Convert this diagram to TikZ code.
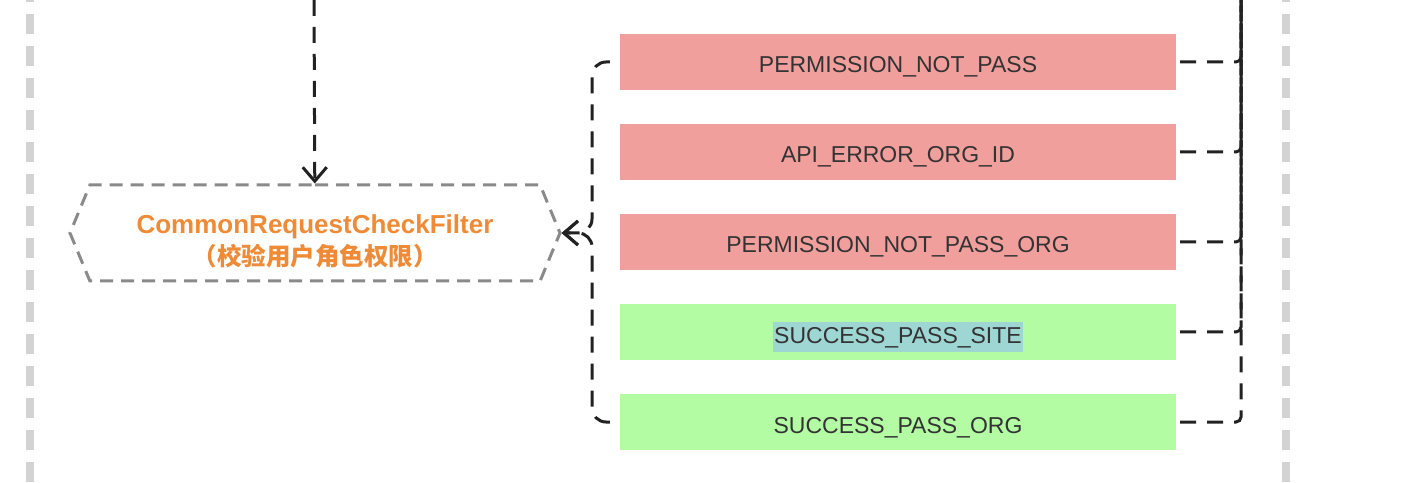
\documentclass[tikz,border=0pt]{standalone}
\usepackage{fontspec}
\setmainfont{Liberation Sans}
\newfontfamily\cjk{Noto Sans CJK SC}
\usetikzlibrary{shapes.symbols,arrows.meta}
\definecolor{errred}{HTML}{F19F9C}
\definecolor{okgreen}{HTML}{B3FCA4}
\definecolor{txtgray}{HTML}{333333}
\definecolor{hexgray}{HTML}{8A8A8A}
\definecolor{lanegray}{HTML}{D3D3D3}
\definecolor{linkblack}{HTML}{222222}
\definecolor{filterorange}{HTML}{EF8A37}
\definecolor{selblue}{HTML}{9ED6D4}
\tikzstyle{errbox} = [rectangle, minimum width=556pt, minimum height=56pt, inner sep=0pt, text height=23pt, text depth=1pt, text centered, fill=errred, text=txtgray, font=\fontsize{23}{28}\selectfont]
\tikzstyle{okbox} = [errbox, fill=okgreen]
\tikzstyle{filter} = [signal, signal to=east and west, signal pointer angle=135, draw=hexgray, line width=3pt, dash pattern=on 13pt off 8pt, minimum width=490pt, minimum height=96pt, inner sep=0pt, align=center, text=filterorange, font=\bfseries\fontsize{26}{32}\selectfont]
\tikzstyle{lane} = [draw=lanegray, line width=8pt, dash pattern=on 20pt off 12pt]
\tikzstyle{link} = [draw=linkblack, line width=3pt, dash pattern=on 16pt off 11pt, rounded corners=5pt]
\tikzstyle{arrow} = [link, -{Straight Barb[length=14pt,width=24pt]}]
\begin{document}
\begin{tikzpicture}[x=1pt, y=1pt, node distance=90pt]
\useasboundingbox (0,0) rectangle (1404,482);

% swimlane borders
\draw[lane] (30,0) -- (30,482);
\draw[lane] (1286,0) -- (1286,482);

\node (filter) [filter] at (315,249) {\rule{0pt}{35pt}CommonRequestCheckFilter\\{\cjk\fontsize{24.5}{32}\selectfont （校验用户角色权限）}};

\node (notPass) [errbox] at (898,420) {PERMISSION\_NOT\_PASS};
\node (orgId) [errbox, below of=notPass] {API\_ERROR\_ORG\_ID};
\node (notPassOrg) [errbox, below of=orgId] {PERMISSION\_NOT\_PASS\_ORG};
\node (passSite) [okbox, below of=notPassOrg] {\fboxsep=1pt\colorbox{selblue}{\strut SUCCESS\_PASS\_SITE}};
\node (passOrg) [okbox, below of=passSite] {SUCCESS\_PASS\_ORG};

\coordinate (entry) at (314,482);
\coordinate (merge) at (592,249);
\coordinate (bus) at (1241,482);

\draw[arrow] (entry) -- (filter);
\draw[arrow, rounded corners=14pt, shorten <=10pt] (notPass.west) -| (merge) -- (filter.east);
\draw[arrow, rounded corners=14pt, shorten <=10pt] (passOrg.west) -| (merge) -- (filter.east);

\draw[link, shorten <=4pt] (notPass.east) -| (bus);
\draw[link, shorten <=4pt] (orgId.east) -| (bus);
\draw[link, shorten <=4pt] (notPassOrg.east) -| (bus);
\draw[link, shorten <=4pt] (passSite.east) -| (bus);
\draw[link, shorten <=4pt] (passOrg.east) -| (bus);

\end{tikzpicture}
\end{document}
